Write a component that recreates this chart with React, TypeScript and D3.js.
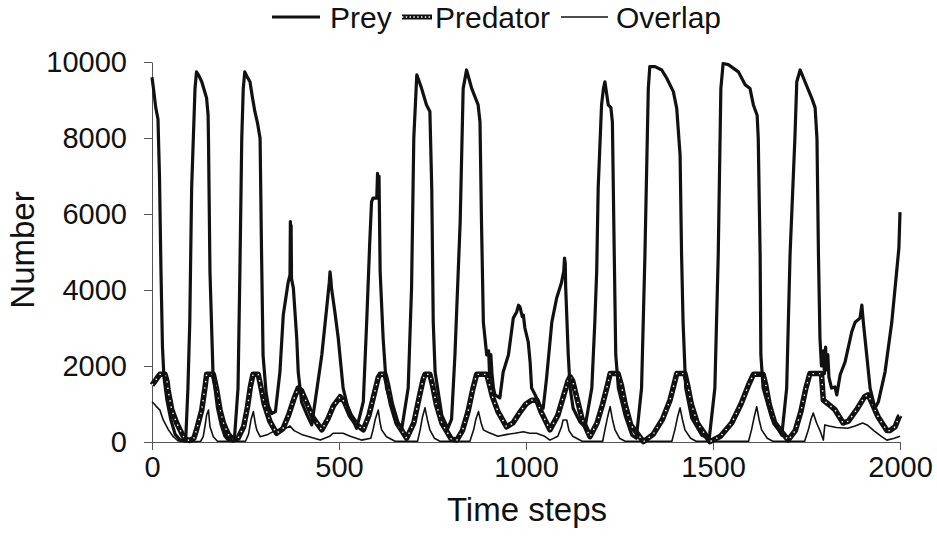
import React, { useEffect, useRef } from "react";
import { select, scaleLinear, axisLeft, axisBottom, line, format } from "d3";

// [time step, number]
const preySeries: [number, number][] = [
  [0, 9600], [4, 9300], [10, 8800], [16, 8500], [20, 7000], [24, 4500], [28, 2500], [32, 1700], [40, 1100], [50, 600], [62, 200], [75, 60], [90, 20],
  [96, 1400], [101, 3150], [106, 6680], [115, 9300], [119, 9740], [125, 9650], [133, 9480], [140, 9250], [146, 9050], [150, 8600], [151, 7990], [155, 4480], [163, 1840], [175, 900], [185, 450], [195, 150], [205, 40], [220, 30],
  [230, 1420], [235, 4480], [240, 7990], [244, 9300], [248, 9740], [255, 9600], [262, 9480], [268, 9100], [275, 8700], [282, 8400], [289, 7990], [293, 4920], [297, 2280], [305, 1300], [311, 960], [320, 750], [330, 800],
  [342, 1840], [351, 3340], [364, 4200], [369, 4400], [370, 5800], [371, 4500], [372, 5700], [373, 4300], [378, 4050], [387, 2730], [391, 1840], [400, 1050], [415, 700], [427, 450],
  [436, 1050], [454, 2290], [467, 3520], [474, 4200], [476, 4480], [478, 4300], [480, 4050], [489, 3420], [498, 2730], [511, 1420], [524, 890], [547, 360],
  [556, 700], [565, 1060], [574, 3150], [582, 5200], [587, 6320], [591, 6420], [601, 6420], [603, 7070], [605, 6500], [607, 7000], [610, 4480], [618, 2730], [627, 1420], [650, 630], [668, 360],
  [685, 1420], [694, 4050], [700, 8000], [708, 9660], [714, 9500], [721, 9300], [734, 8870], [743, 8700], [748, 6680], [752, 3150], [757, 1840], [775, 700], [791, 360],
  [801, 600], [810, 2290], [824, 5790], [832, 9300], [841, 9790], [855, 9300], [872, 8870], [877, 8420], [881, 5790], [886, 3150], [895, 2290], [900, 2400], [903, 1700], [906, 2300], [909, 1800], [913, 1420], [917, 1240], [930, 1160],
  [939, 1840], [953, 2290], [966, 3260], [975, 3420], [980, 3600], [984, 3550], [990, 3300], [993, 3340], [997, 3000], [1006, 2630], [1011, 2100], [1015, 1420], [1024, 1250], [1037, 970], [1046, 890],
  [1055, 1680], [1069, 3150], [1082, 3790], [1095, 4200], [1101, 4500], [1103, 4840], [1105, 4700], [1106, 4100], [1113, 2290], [1118, 1420], [1126, 890], [1144, 530], [1158, 400],
  [1176, 1420], [1184, 3150], [1189, 4480], [1193, 6680], [1202, 8870], [1207, 9300], [1211, 9480], [1220, 8870], [1227, 8800], [1231, 8420], [1236, 4920], [1240, 2290], [1247, 1420], [1265, 700], [1283, 180], [1295, 100],
  [1309, 1420], [1318, 4920], [1327, 9300], [1331, 9880], [1345, 9880], [1363, 9790], [1376, 9580], [1394, 9220], [1403, 8780], [1412, 7550], [1416, 4920], [1420, 3150], [1427, 1420], [1443, 630], [1470, 180], [1490, 100],
  [1505, 1420], [1514, 4920], [1521, 9300], [1527, 9960], [1541, 9930], [1568, 9740], [1586, 9400], [1599, 9300], [1608, 8870], [1618, 8600], [1621, 7990], [1626, 4920], [1628, 2290], [1634, 1420], [1657, 630], [1684, 180],
  [1697, 1420], [1706, 4920], [1719, 8000], [1724, 9480], [1733, 9790], [1746, 9480], [1764, 9050], [1773, 8800], [1778, 7990], [1782, 4920], [1786, 2730], [1790, 2000], [1795, 2400], [1798, 1800], [1801, 2500], [1804, 1900], [1807, 2300], [1810, 1700],
  [1817, 1420], [1826, 1450], [1831, 1240], [1840, 1770], [1853, 2100], [1871, 2900], [1880, 3150], [1893, 3260], [1898, 3600], [1902, 3150], [1911, 2290], [1920, 1420], [1933, 890], [1942, 1050], [1960, 1840], [1978, 3150], [1991, 4480], [1997, 5100], [2000, 6050],
];

const predatorSeries: [number, number][] = [
  [0, 1500], [8, 1600], [15, 1700], [21, 1780], [35, 1780], [40, 1600], [43, 1370], [53, 840], [66, 500], [79, 240], [88, 80], [100, 40],
  [112, 100], [119, 320], [133, 840], [142, 1460], [146, 1780], [164, 1780], [168, 1600], [173, 1370], [182, 840], [191, 500], [204, 200], [217, 60],
  [230, 100], [245, 400], [255, 900], [263, 1450], [270, 1780], [284, 1780], [290, 1500], [300, 1000], [315, 550], [333, 230],
  [350, 350], [365, 700], [380, 1150], [391, 1420], [400, 1350], [415, 1000], [430, 650], [454, 320],
  [470, 600], [485, 950], [503, 1190], [515, 1050], [530, 700], [548, 450], [565, 320],
  [580, 700], [595, 1300], [605, 1700], [610, 1780], [623, 1780], [630, 1500], [640, 1000], [655, 500], [681, 100],
  [700, 500], [715, 1200], [725, 1650], [730, 1780], [743, 1780], [750, 1500], [760, 1000], [775, 500], [800, 80], [815, 50],
  [830, 300], [845, 800], [858, 1400], [868, 1780], [895, 1780], [900, 1600], [910, 1200], [925, 800], [948, 400],
  [965, 500], [985, 800], [1000, 1000], [1015, 1100], [1029, 1100], [1040, 800], [1064, 320],
  [1085, 700], [1100, 1200], [1112, 1600], [1118, 1720], [1125, 1600], [1135, 1200], [1150, 600], [1171, 140],
  [1190, 500], [1205, 1000], [1218, 1500], [1225, 1800], [1246, 1800], [1255, 1500], [1265, 1000], [1280, 450], [1314, 10],
  [1340, 200], [1365, 600], [1385, 1100], [1398, 1600], [1403, 1800], [1425, 1800], [1432, 1500], [1442, 1000], [1458, 500], [1492, 10],
  [1520, 150], [1550, 500], [1575, 1000], [1595, 1500], [1608, 1780], [1634, 1780], [1641, 1500], [1650, 1000], [1665, 500], [1701, 50],
  [1720, 300], [1735, 800], [1748, 1400], [1759, 1800], [1790, 1800], [1795, 1100], [1808, 1000], [1826, 850], [1848, 500],
  [1862, 550], [1884, 850], [1906, 1200], [1915, 1240], [1924, 1050], [1942, 650], [1965, 300], [1973, 300], [1987, 400], [1997, 650], [2000, 700],
];

const overlapSeries: [number, number][] = [
  [0, 1060], [6, 1000], [12, 930], [21, 840], [30, 580], [44, 320], [57, 140], [70, 30], [100, 0], [130, 20],
  [137, 140], [143, 500], [146, 710], [151, 840], [155, 400], [164, 140], [175, 20], [250, 20],
  [258, 200], [265, 600], [271, 800], [276, 500], [280, 320], [289, 140], [310, 200], [333, 320], [350, 320], [369, 420], [380, 300], [400, 200], [420, 140], [450, 50],
  [475, 150], [484, 230], [511, 230], [530, 150], [560, 50], [585, 100],
  [591, 320], [597, 600], [605, 840], [610, 500], [614, 320], [627, 140], [650, 20], [710, 20],
  [717, 320], [723, 650], [730, 900], [736, 600], [743, 320], [755, 100], [770, 20], [850, 20],
  [860, 320], [866, 600], [873, 800], [880, 500], [886, 320], [900, 250], [925, 150], [950, 200], [970, 230], [993, 270], [1010, 230], [1028, 230], [1050, 150], [1064, 50],
  [1085, 150], [1095, 400], [1099, 580], [1109, 580], [1115, 300], [1125, 150], [1150, 20], [1205, 20],
  [1211, 320], [1218, 650], [1225, 930], [1231, 600], [1238, 320], [1250, 100], [1265, 20], [1390, 20],
  [1398, 320], [1405, 650], [1412, 900], [1418, 600], [1425, 320], [1440, 100], [1455, 20], [1595, 20],
  [1603, 320], [1610, 650], [1617, 930], [1623, 600], [1630, 320], [1645, 100], [1660, 20], [1745, 20],
  [1755, 320], [1762, 600], [1768, 760], [1777, 500], [1786, 300], [1795, 50], [1799, 450], [1810, 420], [1830, 380], [1860, 360], [1880, 420], [1900, 500], [1912, 450], [1930, 300], [1950, 150], [1965, 50], [1985, 100], [2000, 150],
];

const xTicks = [0, 500, 1000, 1500, 2000];
const yTicks = [0, 2000, 4000, 6000, 8000, 10000];
const legendLabels = ["Prey", "Predator", "Overlap"];

const FONT = "'Liberation Sans', Arial, sans-serif";

export default function App() {
  const xAxisRef = useRef<SVGGElement>(null);
  const yAxisRef = useRef<SVGGElement>(null);

  const x = scaleLinear().domain([0, 2000]).range([152, 900]);
  const y = scaleLinear().domain([0, 10000]).range([442, 62]);

  const lineGen = line<[number, number]>()
    .x(d => x(d[0]))
    .y(d => y(d[1]));

  useEffect(() => {
    const xAxis = axisBottom(x).tickValues(xTicks).tickSize(8).tickSizeOuter(0).tickPadding(6).tickFormat(format("d"));
    const yAxis = axisLeft(y).tickValues(yTicks).tickSize(8).tickSizeOuter(0).tickPadding(17).tickFormat(format("d"));

    const gx = select(xAxisRef.current).call(xAxis as any);
    const gy = select(yAxisRef.current).call(yAxis as any);

    [gx, gy].forEach(g => {
      g.select(".domain").attr("stroke", "#555").attr("stroke-width", 1);
      g.selectAll(".tick line").attr("stroke", "#555");
      g.selectAll(".tick text")
        .attr("fill", "#111")
        .style("font-family", FONT)
        .style("font-size", "29px");
    });
  }, []);

  return (
    <svg width={937} height={542} style={{ position: "absolute", left: 0, top: 0, background: "#fff" }}>
      <g ref={xAxisRef} transform="translate(0,442)" />
      <g ref={yAxisRef} transform="translate(152,0)" />

      {/* series */}
      <path d={lineGen(overlapSeries) || ""} fill="none" stroke="#111" strokeWidth={1.6} strokeLinejoin="round" />
      <path d={lineGen(predatorSeries) || ""} fill="none" stroke="#111" strokeWidth={5.5} strokeLinejoin="round" />
      <path d={lineGen(predatorSeries) || ""} fill="none" stroke="#fff" strokeWidth={1.4} strokeDasharray="1.4 5" />
      <path d={lineGen(preySeries) || ""} fill="none" stroke="#111" strokeWidth={3.2} strokeLinejoin="round" />

      {/* axis titles */}
      <text x={527} y={521} textAnchor="middle" fontFamily={FONT} fontSize={33} fill="#111">Time steps</text>
      <text transform="translate(34,250) rotate(-90)" textAnchor="middle" fontFamily={FONT} fontSize={33} fill="#111">Number</text>

      {/* legend */}
      <g fontFamily={FONT} fontSize={30} fill="#111">
        <line x1={272} x2={320} y1={17} y2={17} stroke="#111" strokeWidth={3} />
        <text x={330} y={28}>{legendLabels[0]}</text>
        <line x1={402} x2={432} y1={17} y2={17} stroke="#111" strokeWidth={5} />
        <line x1={402} x2={432} y1={17} y2={17} stroke="#fff" strokeWidth={1.4} strokeDasharray="1.4 2.4" />
        <text x={435} y={28}>{legendLabels[1]}</text>
        <line x1={561} x2={608} y1={17} y2={17} stroke="#111" strokeWidth={1.6} />
        <text x={616} y={28}>{legendLabels[2]}</text>
      </g>
    </svg>
  );
}
